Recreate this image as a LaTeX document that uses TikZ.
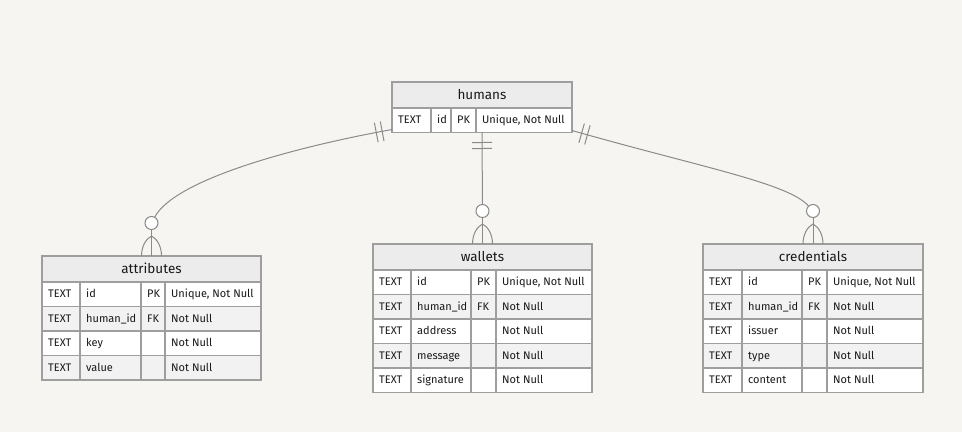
\documentclass[tikz,border=0pt]{standalone}
\usepackage{fontspec}
\setmainfont{Fira Sans}
\usetikzlibrary{decorations.markings}
\definecolor{bgcol}{RGB}{246,245,242}
\definecolor{hdrfill}{RGB}{236,236,236}
\definecolor{rowgray}{RGB}{242,242,242}
\definecolor{tabcol}{RGB}{158,158,158}
\definecolor{relcol}{RGB}{138,138,138}

\tikzset{
  hdr/.style={draw=tabcol, fill=hdrfill, line width=1.2pt, minimum height=26pt,
    inner sep=0pt, outer sep=0pt, text height=9pt, text depth=0pt,
    font=\fontsize{13.5}{16}\selectfont, text=black!90},
  rowbox/.style={draw=tabcol, line width=1.2pt, minimum height=24.5pt, inner sep=0pt, outer sep=0pt},
  cell/.style={anchor=base west, inner sep=0pt, font=\fontsize{11}{13}\selectfont, text=black!90},
  tabline/.style={draw=tabcol, line width=1.2pt},
  rel/.style={draw=relcol, line width=1pt},
  ocirc/.style={circle, draw=relcol, fill=white, line width=1pt, minimum size=13pt, inner sep=0pt},
  onlyone/.style={postaction={decorate, decoration={markings,
      mark=at position 10pt with {\draw[rel] (0,-10pt) -- (0,10pt);},
      mark=at position 16pt with {\draw[rel] (0,-10pt) -- (0,10pt);}}}},
  crowfoot/.pic={
    \draw[rel] (0,-20) .. controls (-6,-17) and (-10,-9) .. (-10,0);
    \draw[rel] (0,-20) .. controls (6,-17) and (10,-9) .. (10,0);}
}

% #1 name, #2 title, #3 left, #4 right, #5 top, #6-#8 column lines, #9 rows
\newcommand{\ertable}[9]{%
  \node[hdr, minimum width={(#4-#3)*1pt}, anchor=north west] (#1) at (#3,#5) {#2};
  \foreach \ty/\nm/\ky/\cs [count=\i] in {#9} {
    \pgfmathsetmacro{\ytop}{#5+26+(\i-1)*24.5}
    \pgfmathtruncatemacro{\odd}{mod(\i,2)}
    \ifnum\odd=1 \def\rowfill{white}\else\def\rowfill{rowgray}\fi
    \node[rowbox, fill=\rowfill, minimum width={(#4-#3)*1pt}, anchor=north west] (#1-\i) at (#3,\ytop) {};
    \draw[tabline] (#6,\ytop) -- ++(0,24.5) (#7,\ytop) -- ++(0,24.5) (#8,\ytop) -- ++(0,24.5);
    \node[cell] (#1-\i-t) at (#3+6,\ytop+15.7) {\ty};
    \node[cell] (#1-\i-n) at (#6+6,\ytop+15.7) {\nm};
    \node[cell] (#1-\i-k) at (#7+6,\ytop+15.7) {\ky};
    \node[cell] (#1-\i-c) at (#8+6,\ytop+15.7) {\cs};
  }
}

\begin{document}
\begin{tikzpicture}[x=1pt, y=-1pt]
  \fill[bgcol] (0,0) rectangle (962,432);
  \useasboundingbox (0,0) rectangle (962,432);

  % tables
  \ertable{hum}{humans}{392}{572}{82}{431}{451}{476}
    {TEXT/id/PK/{Unique, Not Null}}
  \ertable{att}{attributes}{42}{261}{256}{80}{141}{165}
    {TEXT/id/PK/{Unique, Not Null}, TEXT/human\_id/FK/Not Null,
     TEXT/key//Not Null, TEXT/value//Not Null}
  \ertable{wal}{wallets}{373}{592}{244}{411}{471}{496}
    {TEXT/id/PK/{Unique, Not Null}, TEXT/human\_id/FK/Not Null,
     TEXT/address//Not Null, TEXT/message//Not Null, TEXT/signature//Not Null}
  \ertable{cred}{credentials}{703}{923}{244}{742}{802}{827}
    {TEXT/id/PK/{Unique, Not Null}, TEXT/human\_id/FK/Not Null,
     TEXT/issuer//Not Null, TEXT/type//Not Null, TEXT/content//Not Null}

  % relations
  \node[ocirc] (o1) at (151.5,223) {};
  \node[ocirc] (o2) at (482.5,211) {};
  \node[ocirc] (o3) at (813,211) {};

  \draw[rel, onlyone] ([yshift=3pt]hum-1.south west) .. controls (290,148) and (175,180) .. (o1);
  \draw[rel] (o1) -- (att.north);
  \pic at (att.north) {crowfoot};

  \draw[rel, onlyone] (hum-1.south) -- (o2);
  \draw[rel] (o2) -- (wal.north);
  \pic at (wal.north) {crowfoot};

  \draw[rel, onlyone] ([yshift=2pt]hum-1.south east) .. controls (700,167) and (788,183) .. (o3);
  \draw[rel] (o3) -- (cred.north);
  \pic at (cred.north) {crowfoot};
\end{tikzpicture}
\end{document}
